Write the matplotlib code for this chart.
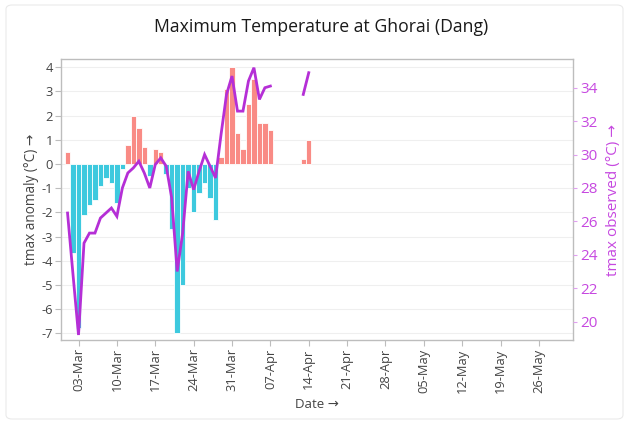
import matplotlib
matplotlib.use("Agg")
import matplotlib.pyplot as plt
import matplotlib.dates as mdates
import matplotlib.patches as mpatches
import numpy as np
import pandas as pd

# ---------------- data ----------------
dates = pd.date_range("2024-03-01", "2024-04-14", freq="D")
anomaly = [0.5, -3.7, -6.8, -2.1, -1.7, -1.5, -0.9, -0.6, -0.8, -1.6,
           -0.2, 0.8, 2.0, 1.5, 0.7, -0.5, 0.6, 0.5, -0.4, -2.7,
           -7.0, -5.0, -1.0, -2.0, -1.2, -0.8, -1.4, -2.3, 0.3, 3.1,
           4.0, 1.3, 0.6, 2.5, 3.5, 1.7, 1.7, 1.4, None, None,
           None, None, None, 0.2, 1.0]
tmax_obs = [26.5, 22.8, 19.2, 24.7, 25.3, 25.3, 26.2, 26.5, 26.8, 26.3,
            28.0, 28.9, 29.2, 29.6, 28.9, 28.0, 29.4, 29.8, 29.3, 27.4,
            23.0, 25.3, 29.0, 27.9, 29.0, 30.0, 29.3, 28.6, 31.2, 33.6,
            34.7, 32.6, 32.6, 34.4, 35.2, 33.3, 34.0, 34.1, None, None,
            None, None, None, 33.6, 34.9]
xtick_dates = pd.date_range("2024-03-03", "2024-05-26", freq="7D")
left_ticks = list(range(-7, 5))
right_ticks = list(range(20, 35, 2))

title = "Maximum Temperature at Ghorai (Dang)"
left_label = "tmax anomaly (°C) →"
right_label = "tmax observed (°C) →"
x_label = "Date →"

# ---------------- style ----------------
plt.rcParams["font.family"] = ["Open Sans", "DejaVu Sans"]
plt.rcParams["axes.unicode_minus"] = False

POS = "#F98B85"
NEG = "#3DC9DE"
LINE = "#B52FD6"
RCOL = "#C648E0"
TXT = "#444444"
FRAME = "#BDBDBD"

fig = plt.figure(figsize=(6.30, 4.23), dpi=100)
ax = fig.add_axes([61.3 / 630, 1 - 340 / 423, (573.3 - 61.3) / 630, (340 - 59.5) / 423])

an = np.array([np.nan if v is None else v for v in anomaly], dtype=float)
tm = np.array([np.nan if v is None else v for v in tmax_obs], dtype=float)
xnum = mdates.date2num(dates)

mask = ~np.isnan(an)
cols = [POS if v >= 0 else NEG for v in an[mask]]
ax.bar(xnum[mask], an[mask], width=1.0, color=cols, edgecolor="white",
       linewidth=0.6, zorder=2)

x0 = mdates.date2num(pd.Timestamp("2024-03-01")) - 1.14
x1 = mdates.date2num(pd.Timestamp("2024-03-01")) + 92.26
ax.set_xlim(x0, x1)
ax.set_ylim(-7.28, 4.32)
ax.set_yticks(left_ticks)
ax.set_yticklabels([str(t) for t in left_ticks])
ax.grid(axis="y", color="#EFEFEF", linewidth=0.8, zorder=0)
ax.set_axisbelow(True)

ax.set_xticks(mdates.date2num(xtick_dates))
ax.set_xticklabels([d.strftime("%d-%b") for d in xtick_dates], rotation=90)

for s in ax.spines.values():
    s.set_color(FRAME)
    s.set_linewidth(1.0)

ax.tick_params(axis="both", colors=FRAME, labelcolor=TXT, labelsize=9.3,
               length=4, width=0.8)
ax.tick_params(axis="x", pad=2)
ax.tick_params(axis="y", pad=2)

ax.set_ylabel(left_label, fontsize=9.8, color=TXT, labelpad=2)
ax.set_xlabel(x_label, fontsize=9.5, color=TXT, labelpad=4)

ax2 = ax.twinx()
ax2.plot(xnum, tm, color=LINE, linewidth=2.0, zorder=3, solid_joinstyle="miter")
ax2.set_ylim(18.90, 35.69)
ax2.set_yticks(right_ticks)
ax2.set_yticklabels([str(t) for t in right_ticks])
ax2.tick_params(axis="y", colors="#E0A0F0", labelcolor=RCOL, labelsize=11,
                length=3, width=0.8, pad=2)
for s in ax2.spines.values():
    s.set_visible(False)
ax2.set_ylabel(right_label, fontsize=11, color=RCOL, labelpad=6)

fig.text(320.8 / 630, 1 - 26.7 / 423, title, ha="center", va="center",
         fontsize=12.7, color="#1a1a1a", fontweight="medium")

# faint outer card border
fig.patches.append(mpatches.FancyBboxPatch((6 / 630, 4 / 423), 617 / 630, 414 / 423,
                   boxstyle="round,pad=0,rounding_size=0.01",
                   transform=fig.transFigure, fill=False,
                   edgecolor="#EAEAEA", linewidth=0.8))

fig.savefig("out.png", dpi=100)
